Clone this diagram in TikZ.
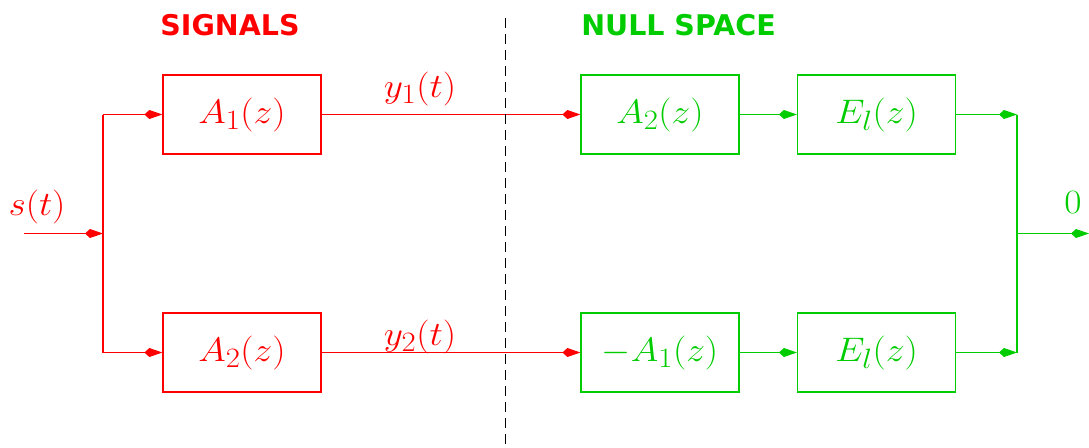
\RequirePackage{fix-cm}
\documentclass[tikz,border=0pt]{standalone}
\usepackage{graphicx}
\usepackage{fontspec}
\newfontfamily\headfont{DejaVu Sans}
\usetikzlibrary{arrows.meta}
\DeclareMathSizes{34}{34}{28}{22}
\newcommand\BlkM[1]{\scalebox{1.1}[1]{\fontsize{34}{40}\selectfont$#1$}}
\newcommand\Sbs[1]{_{\mbox{\fontsize{28}{30}\selectfont$#1$}}}
\definecolor{sigred}{RGB}{255,0,0}
\definecolor{nullgreen}{RGB}{0,204,0}
\tikzset{
  blk/.style={draw, line width=1.2pt, minimum width=158pt, minimum height=79pt, inner sep=0pt},
  redblk/.style={blk, draw=sigred, text=sigred},
  greenblk/.style={blk, draw=nullgreen, text=nullgreen},
  wire/.style={line width=1.2pt},
  arr/.style={wire, -{Kite[length=18pt,width=9pt,inset=5pt]}},
  lbl/.style={inner sep=0pt},
  head/.style={inner sep=0pt, font=\headfont\bfseries\fontsize{28.5}{34}\selectfont},
}
\begin{document}
\begin{tikzpicture}[x=1pt,y=-1pt]
\useasboundingbox (0,0) rectangle (1089,447);
% headings
\node[head, text=sigred] (hsig) at (230,25.5) {SIGNALS};
\node[head, text=nullgreen] (hnull) at (678.5,25.5) {NULL SPACE};
% blocks
\node[redblk] (a1) at (242,114.5) {\BlkM{A\Sbs{1}(z)}};
\node[redblk] (a2) at (242,352.5) {\BlkM{A\Sbs{2}(z)}};
\node[greenblk] (g1) at (660,114.5) {\BlkM{A\Sbs{2}(z)}};
\node[greenblk] (e1) at (876.5,114.5) {\BlkM{E\Sbs{l}(z)}};
\node[greenblk] (g2) at (660,352.5) {\BlkM{-A\Sbs{1}(z)}};
\node[greenblk] (e2) at (876.5,352.5) {\BlkM{E\Sbs{l}(z)}};
% coordinates
\coordinate (sin) at (24,233.5);
\coordinate (rm) at (103,233.5);
\coordinate (rt) at (103,114.5);
\coordinate (rb) at (103,352.5);
\coordinate (gt) at (1017,114.5);
\coordinate (gb) at (1017,352.5);
\coordinate (gm) at (1017,233.5);
\coordinate (out) at (1089,233.5);
\coordinate (dtop) at (505,18);
\coordinate (dbot) at (505,447);
% labels
\node[lbl, text=sigred] (ls) at (37,207) {\BlkM{s(t)}};
\node[lbl, text=sigred] (ly1) at (420,89) {\BlkM{y\Sbs{1}(t)}};
\node[lbl, text=sigred] (ly2) at (420,337) {\BlkM{y\Sbs{2}(t)}};
\node[lbl, text=nullgreen] (lz) at (1073,203) {\BlkM{0}};
% red wiring
\draw[arr, sigred] (sin) -- (rm);
\draw[wire, sigred] (rt) -- (rb);
\draw[arr, sigred] (rt) -- (a1.west);
\draw[arr, sigred] (rb) -- (a2.west);
\draw[arr, sigred] (a1.east) -- (g1.west);
\draw[arr, sigred] (a2.east) -- (g2.west);
% green wiring
\draw[arr, nullgreen] (g1.east) -- (e1.west);
\draw[arr, nullgreen] (g2.east) -- (e2.west);
\draw[arr, nullgreen] (e1.east) -- (gt);
\draw[arr, nullgreen] (e2.east) -- (gb);
\draw[wire, nullgreen] (gt) -- (gb);
\draw[arr, nullgreen] (gm) -- (out);
% divider
\draw[line width=1pt, dash pattern=on 10pt off 6pt] (dtop) -- (dbot);
\end{tikzpicture}
\end{document}
